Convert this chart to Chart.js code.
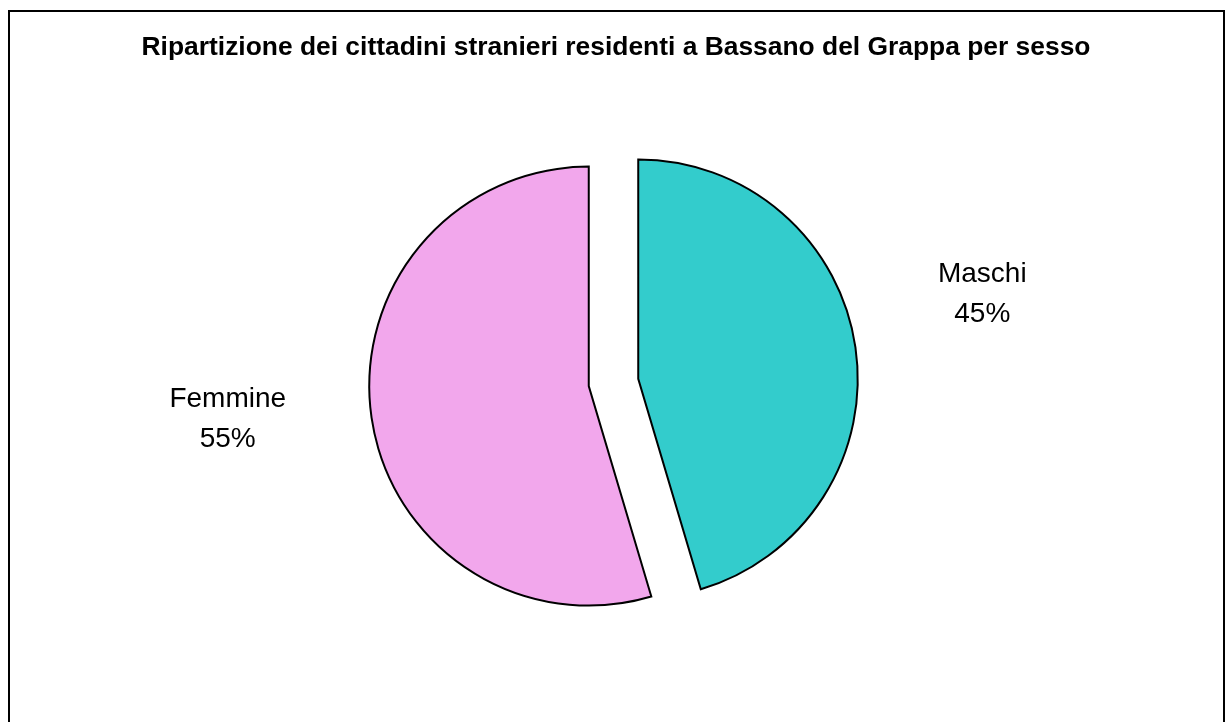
<!DOCTYPE html>
<html>
<head>
<meta charset="utf-8">
<script src="https://cdn.jsdelivr.net/npm/chart.js@4"></script>
<style>
  html,body{margin:0;padding:0;background:#fff}
  #c{display:block}
</style>
</head>
<body>
<canvas id="c" width="1227" height="722"></canvas>
<script>
const titleText = 'Ripartizione dei cittadini stranieri residenti a Bassano del Grappa per sesso'
const labels = ['Maschi', 'Femmine']
const values = [45.4, 54.6]
const colors = ['#33CCCC', '#F2A7EC']

const pieRadius = 219.5
const explode = 25
// small per-label nudges so the text sits where Excel put it
const labelNudge = [[-4, -34], [-13, -17]]

// Excel-like exploded slices: slide every arc out along its mid angle,
// keeping the radius (chart.js' own offset also enlarges the arcs)
const explodeSlices = {
  id:'explodeSlices',
  beforeDatasetsDraw(chart){
    const a = chart.chartArea
    const cx = (a.left + a.right) / 2, cy = (a.top + a.bottom) / 2
    chart.getDatasetMeta(0).data.forEach(arc=>{
      const mid = (arc.startAngle + arc.endAngle) / 2
      arc.x = cx + Math.cos(mid) * explode
      arc.y = cy + Math.sin(mid) * explode
    })
  }
}

// frame + title + outside labels
const decor = {
  id:'decor',
  beforeDraw(chart){
    const ctx = chart.ctx
    ctx.save()
    ctx.fillStyle = '#fff'
    ctx.fillRect(0, 0, chart.width, chart.height)
    ctx.strokeStyle = '#000'
    ctx.lineWidth = 2
    ctx.strokeRect(9, 11, 1215, 800)
    ctx.fillStyle = '#000'
    ctx.font = 'bold 26.4px "Liberation Sans", Arial, sans-serif'
    ctx.textAlign = 'center'
    ctx.textBaseline = 'alphabetic'
    ctx.fillText(titleText, 616, 55)
    ctx.restore()
  },
  afterDraw(chart){
    const ctx = chart.ctx
    const a = chart.chartArea
    const cx = (a.left + a.right) / 2, cy = (a.top + a.bottom) / 2
    const meta = chart.getDatasetMeta(0)
    const total = values.reduce((s,v)=>s+v, 0)
    ctx.save()
    ctx.fillStyle = '#000'
    ctx.font = '28px "Liberation Sans", Arial, sans-serif'
    ctx.textAlign = 'center'
    ctx.textBaseline = 'middle'
    meta.data.forEach((arc, i)=>{
      const mid = (arc.startAngle + arc.endAngle) / 2
      const d = 219 * 1.72
      const x = cx + Math.cos(mid) * d + labelNudge[i][0]
      const y = cy + Math.sin(mid) * d + labelNudge[i][1]
      const pct = Math.round(values[i] / total * 100) + '%'
      ctx.fillText(labels[i], x, y - 20)
      ctx.fillText(pct, x, y + 20)
    })
    ctx.restore()
  }
}

new Chart(document.getElementById('c').getContext('2d'), {
  type:'pie',
  data:{
    labels,
    datasets:[{
      data: values,
      backgroundColor: colors,
      borderColor:'#000',
      borderWidth:2,
      borderJoinStyle:'miter'
    }]
  },
  options:{
    responsive:false,
    animation:false,
    radius:pieRadius,
    layout:{padding:{top:100, bottom:57, left:0, right:0}},
    plugins:{legend:{display:false}, title:{display:false}, tooltip:{enabled:false}}
  },
  plugins:[explodeSlices, decor]
})
</script>
</body>
</html>
